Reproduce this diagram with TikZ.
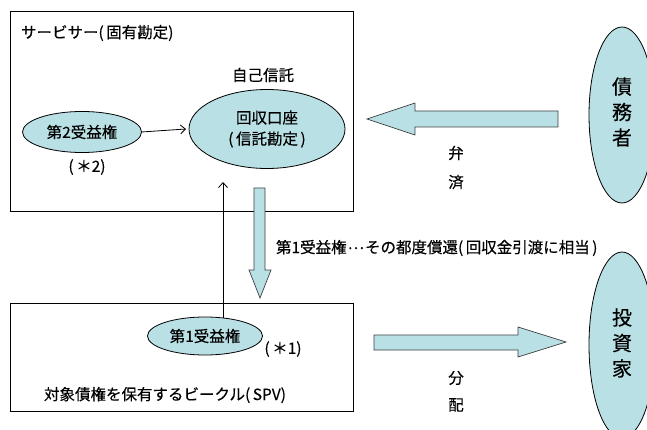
\documentclass[tikz,border=0pt]{standalone}
\usepackage{fontspec}
\setmainfont{Noto Sans CJK JP}[FakeBold=0.3]
\usetikzlibrary{shapes.geometric,arrows.meta}
\definecolor{lb}{RGB}{185,224,228}
\newcommand{\ps}{\hspace{2.5pt}}
\begin{document}
\begin{tikzpicture}[x=1pt,y=-1pt,
  every node/.style={font=\fontsize{15.5}{18}\selectfont, inner sep=0pt, outer sep=0pt},
  oval/.style={ellipse, draw=black, line width=0.8pt, fill=lb, align=center},
  frame/.style={rectangle, draw=black, line width=0.8pt, anchor=north west},
  blockarrow/.style={draw=black!75, line width=0.7pt, fill=lb},
  thinarrow/.style={draw=black, line width=0.8pt, -{Straight Barb[length=5pt,width=9pt]}},
  vtext/.style={align=center, font=\fontsize{20}{25.5}\selectfont}]
\useasboundingbox (0,0) rectangle (647,430);
\clip (0,0) rectangle (647,430);
\fill[white] (0,0) rectangle (647,430);

% frames
\node[frame, minimum width=343pt, minimum height=200pt] (servicer) at (10,11) {};
\node[frame, minimum width=343pt, minimum height=108pt] (spv) at (10,303) {};

% texts in frames
\node[anchor=west] (servicerlbl) at (21,33) {サービサー(\ps 固有勘定)};
\node (selftrust) at (263,75) {自己信託};
\node (note2) at (87,167) {(\ps＊2)};
\node (note1) at (283,349) {(\ps＊1)};
\node (spvlbl) at (165,395) {対象債権を保有するビークル(\ps SPV)};

% ovals
\node[oval, minimum width=119pt, minimum height=41pt] (ben2) at (82,132) {第2受益権};
\node[oval, minimum width=156pt, minimum height=79pt] (acct) at (267,129) {回収口座\\[3pt](\ps 信託勘定\ps)};
\node[oval, minimum width=115pt, minimum height=38pt] (ben1) at (205,336) {第1受益権};
\node[oval, minimum width=66pt, minimum height=176pt] (debtor) at (622,115) {};
\node[vtext] (debtorlbl) at (622,112) {債\\務\\者};
\node[oval, minimum width=66pt, minimum height=186pt] (investor) at (622,345) {};
\node[vtext] (investorlbl) at (622,343) {投\\資\\家};

% thin connectors
\draw[thinarrow] (ben2.east) -- ([xshift=-3pt]acct.west);
\coordinate (uptip) at (223,182);
\draw[thinarrow] (ben1.north -| uptip) ++(0,1) -- (uptip);

% block arrows
\draw[blockarrow] (367,119) -- (415,103) -- (415,111) -- (558,111) -- (558,127)
  -- (415,127) -- (415,135) -- cycle;
\draw[blockarrow] (254,188) -- (265,188) -- (265,270) -- (271,270) -- (260,298)
  -- (249,270) -- (254,270) -- cycle;
\draw[blockarrow] (374,335) -- (518,335) -- (518,327) -- (566,342) -- (518,357)
  -- (518,350) -- (374,350) -- cycle;

% arrow labels
\node[anchor=west] (downlbl) at (276,248) {第1受益権\hspace{1pt}\raisebox{4pt}{…}\hspace{1pt}その都度償還(\ps 回収金引渡に相当\ps)};
\node (pay1) at (456,153) {弁};
\node (pay2) at (456,182) {済};
\node (dist1) at (456,378) {分};
\node (dist2) at (456,405) {配};
\end{tikzpicture}
\end{document}
